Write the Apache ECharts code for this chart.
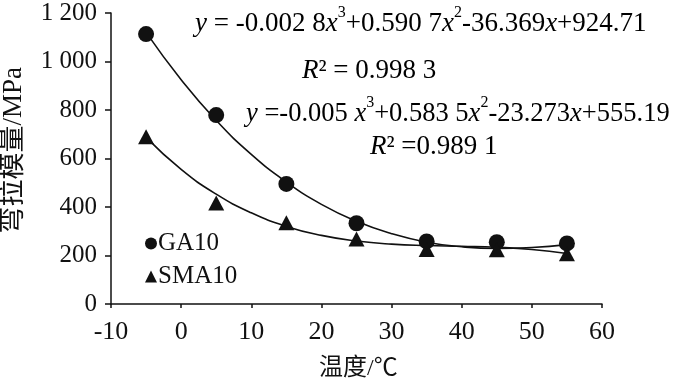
<!DOCTYPE html>
<html>
<head>
<meta charset="utf-8">
<script src="https://cdn.jsdelivr.net/npm/echarts@6/dist/echarts.min.js"></script>
<style>
	html, body { margin: 0; padding: 0; background: #fff; }
	#chartDiv { width: 700px; height: 383px; }
</style>
</head>
<body>
<div id="chartDiv"></div>
<script>
// measured points
var ga10Points = [[-5, 1113], [5, 779], [15, 495], [25, 333], [35, 258], [45, 255], [55, 250]];
var sma10Points = [[-5, 690], [5, 416], [15, 335], [25, 268], [35, 225], [45, 224], [55, 207]];

// fitted curves
var ga10Curve = [[-5, 1120], [0, 925], [5, 757], [10, 617], [15, 503], [20, 411], [25, 341], [30, 290], [35, 255], [40, 236], [45, 229], [50, 233], [55, 245]];
var sma10Curve = [[-5, 687], [0, 555], [5, 453], [10, 376], [15, 320], [20, 283], [25, 260], [30, 247], [35, 241], [40, 238], [45, 234], [50, 225], [55, 208]];

var xTicks = [-10, 0, 10, 20, 30, 40, 50, 60];
var yTicks = [0, 200, 400, 600, 800, 1000, 1200];

var serif = '"Liberation Serif", "Times New Roman", "Noto Sans CJK SC", serif';

var chart = echarts.init(document.getElementById('chartDiv'));

function eqRich(size) {
	return {
		n: { fontFamily: serif, fontSize: size, color: '#111', lineHeight: 32, verticalAlign: 'bottom' },
		i: { fontFamily: serif, fontSize: size, fontStyle: 'italic', color: '#111', lineHeight: 32, verticalAlign: 'bottom' },
		s: { fontFamily: serif, fontSize: 16, color: '#111', lineHeight: 32, verticalAlign: 'top', padding: [0, 0, 12, 0] }
	};
}

var option = {
	backgroundColor: '#fff',
	animation: false,
	grid: {
		left: 111,
		right: 98,
		top: 13,
		bottom: 79
	},
	legend: {
		orient: 'vertical',
		left: 140,
		top: 226,
		itemGap: 8,
		itemWidth: 12,
		itemHeight: 12,
		itemStyle: { borderWidth: 0 },
		textStyle: { fontFamily: serif, fontSize: 25, lineHeight: 25, color: '#111', padding: [0, 0, 0, -4] },
		data: [
			{ name: 'GA10', icon: 'circle' },
			{ name: 'SMA10', icon: 'triangle' }
		]
	},
	xAxis: {
		type: 'value',
		min: xTicks[0],
		max: xTicks[xTicks.length - 1],
		interval: 10,
		splitLine: { show: false },
		axisLine: { onZero: false, lineStyle: { color: '#111', width: 1.5 } },
		axisTick: { show: true, length: 4, inside: false, lineStyle: { color: '#111', width: 1.5 } },
		axisLabel: { fontFamily: serif, fontSize: 26, color: '#111', margin: 15 }
	},
	yAxis: {
		type: 'value',
		min: yTicks[0],
		max: yTicks[yTicks.length - 1],
		interval: 200,
		splitLine: { show: false },
		axisLine: { show: true, onZero: false, lineStyle: { color: '#111', width: 1.5 } },
		axisTick: { show: true, length: 6, lineStyle: { color: '#111', width: 1.5 } },
		axisLabel: {
			fontFamily: serif, fontSize: 25, color: '#111', margin: 14,
			formatter: function (v) {
				return v >= 1000 ? Math.floor(v / 1000) + ' ' + String(v % 1000).padStart(3, '0') : String(v);
			}
		}
	},
	graphic: [
		{
			type: 'text', left: 0, top: 67, rotation: Math.PI / 2,
			style: { text: '弯拉模量/MPa', fontFamily: serif, fontSize: 27, fill: '#111' }
		},
		{
			type: 'text', left: 319, top: 357,
			style: { text: '温度/℃', fontFamily: serif, fontSize: 24, fill: '#111' }
		},
		{
			type: 'text', left: 195, top: 5,
			style: {
				text: '{i|y}{n| = -0.002 8}{i|x}{s|3}{n|+0.590 7}{i|x}{s|2}{n|-36.369}{i|x}{n|+924.71}',
				rich: eqRich(27)
			}
		},
		{
			type: 'text', left: 302, top: 57,
			style: { text: '{i|R}{n|² = 0.998 3}', rich: eqRich(27) }
		},
		{
			type: 'text', left: 246, top: 95,
			style: {
				text: '{i|y}{n| =-0.005 }{i|x}{s|3}{n|+0.583 5}{i|x}{s|2}{n|-23.273}{i|x}{n|+555.19}',
				rich: eqRich(26.5)
			}
		},
		{
			type: 'text', left: 370, top: 133,
			style: { text: '{i|R}{n|² =0.989 1}', rich: eqRich(27) }
		}
	],
	series: [
		{
			name: 'GA10 fit',
			type: 'line',
			data: ga10Curve,
			smooth: true,
			symbol: 'none',
			lineStyle: { color: '#111', width: 1.6 },
			z: 2
		},
		{
			name: 'SMA10 fit',
			type: 'line',
			data: sma10Curve,
			smooth: true,
			symbol: 'none',
			lineStyle: { color: '#111', width: 1.6 },
			z: 2
		},
		{
			name: 'GA10',
			type: 'scatter',
			data: ga10Points,
			symbol: 'circle',
			symbolSize: 16,
			itemStyle: { color: '#111', opacity: 1 },
			z: 3
		},
		{
			name: 'SMA10',
			type: 'scatter',
			data: sma10Points,
			symbol: 'triangle',
			symbolSize: [16, 15],
			itemStyle: { color: '#111', opacity: 1 },
			z: 3
		}
	]
};

chart.setOption(option, true);
</script>
</body>
</html>
